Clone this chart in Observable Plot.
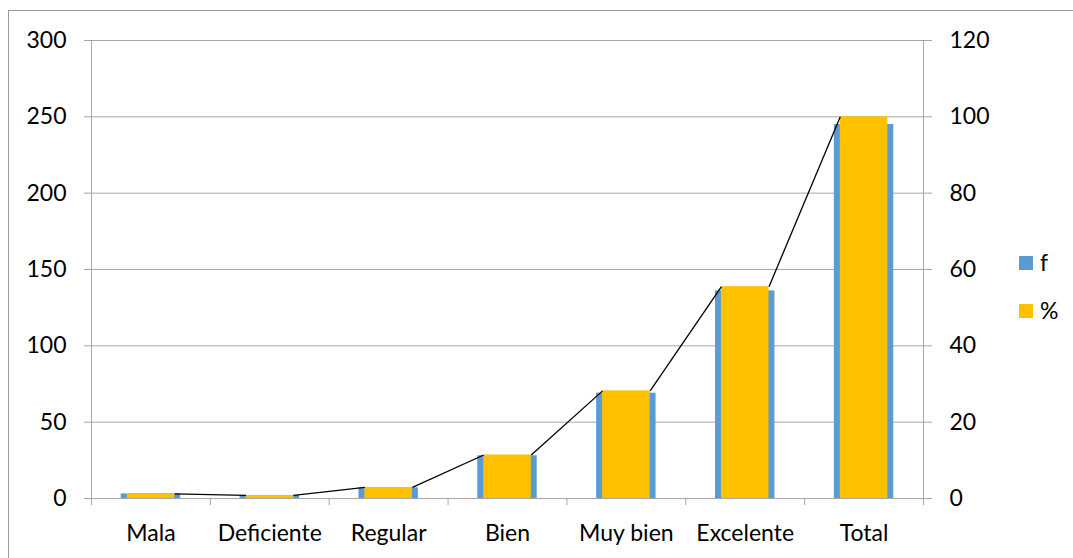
<!DOCTYPE html>
<html>
<head>
<meta charset="utf-8">
<script src="https://cdn.jsdelivr.net/npm/d3@7"></script>
<script src="https://cdn.jsdelivr.net/npm/@observablehq/plot@0.6"></script>
<style>
  html, body { margin: 0; padding: 0; background: #fff; }
  #chart { position: relative; width: 1073px; height: 558px; }
</style>
</head>
<body>
<div id="chart"></div>
<script>
const categories = ["Mala", "Deficiente", "Regular", "Bien", "Muy bien", "Excelente", "Total"];
const fValues = [3, 2, 7, 28, 69, 136, 245];
const pctValues = [1.2, 0.8, 2.9, 11.4, 28.2, 55.5, 100];
const leftTicks = [0, 50, 100, 150, 200, 250, 300];
const rightTicks = [0, 20, 40, 60, 80, 100, 120];
const seriesNames = ["f", "%"];
const seriesColors = ["#5B9BD5", "#FFC000"];

const ratio = 300 / 120; // right axis -> left axis units
const data = categories.map((c, i) => ({i, c, f: fValues[i], p: pctValues[i] * ratio}));
const links = data.slice(0, -1).map((d, k) => ({a: d, b: data[k + 1]}));
const gray = "#a6a6a6";
const font = "Lato, 'Open Sans', sans-serif";

const chart = Plot.plot({
  width: 1073,
  height: 558,
  marginLeft: 91,
  marginRight: 150,
  marginTop: 40,
  marginBottom: 60,
  style: {fontFamily: font, fontSize: "23px", color: "#000", background: "transparent"},
  x: {type: "linear", domain: [-0.5, categories.length - 0.5]},
  y: {domain: [0, 300]},
  marks: [
    Plot.gridY(leftTicks, {stroke: gray, strokeOpacity: 1}),
    Plot.rect(data, {x1: d => d.i - 0.25, x2: d => d.i + 0.25, y1: 0, y2: "f", fill: seriesColors[0]}),
    Plot.rect(data, {x1: d => d.i - 0.2, x2: d => d.i + 0.2, y1: 0, y2: "p", fill: seriesColors[1]}),
    Plot.link(links, {x1: d => d.a.i + 0.2, y1: d => d.a.p, x2: d => d.b.i - 0.2, y2: d => d.b.p, stroke: "#000", strokeWidth: 1.3}),
    Plot.ruleX([-0.5, categories.length - 0.5], {y1: 0, y2: 300, stroke: gray}),
    Plot.ruleY([0], {stroke: gray}),
    Plot.axisY(leftTicks, {anchor: "left", tickSize: 7, tickPadding: 18, stroke: gray, label: null, fill: "#000"}),
    Plot.axisY(rightTicks.map(v => v * ratio), {anchor: "right", tickSize: 8, tickPadding: 18, stroke: gray, label: null, tickFormat: v => Math.round(v / ratio), fill: "#000"}),
    Plot.axisX(d3.range(-0.5, categories.length, 1), {anchor: "bottom", tickSize: 7, stroke: gray, tickFormat: () => "", label: null}),
    Plot.axisX(d3.range(categories.length), {anchor: "bottom", tickSize: 0, tickPadding: 26, tickFormat: i => categories[i], label: null, fill: "#000"})
  ]
});

document.getElementById("chart").appendChild(chart);

// Chart border and legend
const svg = d3.select(chart);
svg.insert("rect", ":first-child")
  .attr("x", 8.5).attr("y", 10.5).attr("width", 1080).attr("height", 560)
  .attr("fill", "none").attr("stroke", "#9c9c9c");
const legend = svg.append("g").attr("font-family", font).attr("font-size", 23).attr("text-anchor", "start");
seriesNames.forEach((name, k) => {
  const y = 256 + k * 48;
  legend.append("rect").attr("x", 1019).attr("y", y).attr("width", 14).attr("height", 14).attr("fill", seriesColors[k]);
  legend.append("text").attr("x", 1040).attr("y", y + 7).attr("dy", "0.35em").attr("text-anchor", "start").text(name);
});
</script>
</body>
</html>
